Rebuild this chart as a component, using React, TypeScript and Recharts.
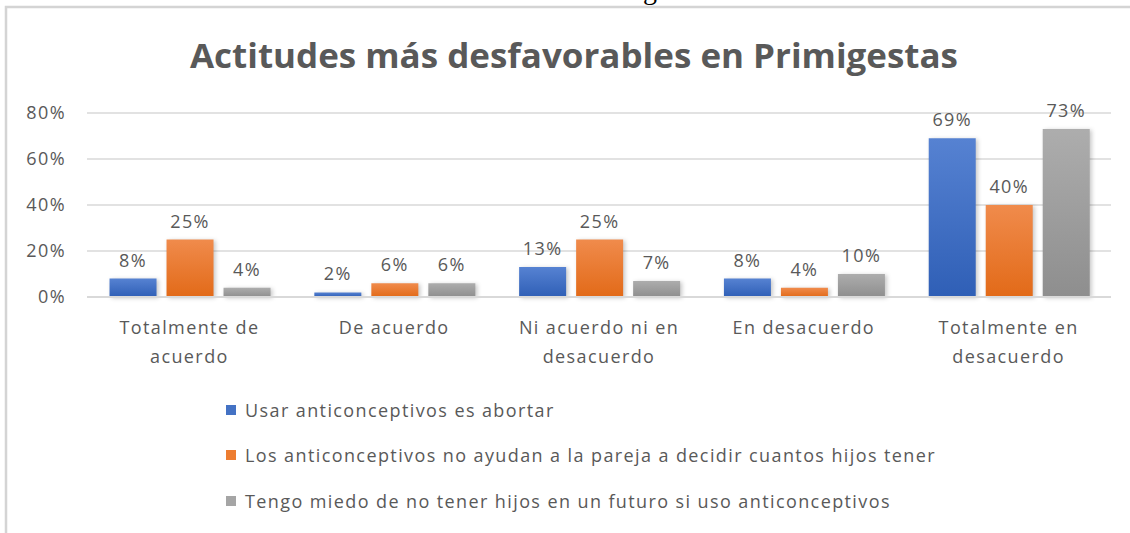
import React from "react";
import { BarChart, Bar, XAxis, YAxis, CartesianGrid, LabelList, Legend } from "recharts";

const categories = [
  "Totalmente de acuerdo",
  "De acuerdo",
  "Ni acuerdo ni en desacuerdo",
  "En desacuerdo",
  "Totalmente en desacuerdo",
];
const tickLines = [
  ["Totalmente de", "acuerdo"],
  ["De acuerdo"],
  ["Ni acuerdo ni en", "desacuerdo"],
  ["En desacuerdo"],
  ["Totalmente en", "desacuerdo"],
];
const seriesNames = [
  "Usar anticonceptivos es abortar",
  "Los anticonceptivos no ayudan a la pareja a decidir cuantos hijos tener",
  "Tengo miedo de no tener hijos en un futuro si uso anticonceptivos",
];
const abortar = [8, 2, 13, 8, 69];
const noAyudan = [25, 6, 25, 4, 40];
const miedo = [4, 6, 7, 10, 73];
const yTicks = [0, 20, 40, 60, 80];

const TITLE = "Actitudes más desfavorables en Primigestas";
const TEXT = "#595959";
const GRID = "#d9d9d9";
const FONT = "'Open Sans', sans-serif";
const SPACING = 1.4;

const series = [
  { key: "s0", name: seriesNames[0], color: "#4472C4", top: "#5682d2", bottom: "#2f5fb6" },
  { key: "s1", name: seriesNames[1], color: "#ED7D31", top: "#f08b4c", bottom: "#e26a18" },
  { key: "s2", name: seriesNames[2], color: "#A5A5A5", top: "#adadad", bottom: "#8e8e8e" },
];

const data = categories.map((c, i) => ({
  category: c,
  s0: abortar[i],
  s1: noAyudan[i],
  s2: miedo[i],
}));

function CategoryTick({ x, y, payload }: any) {
  const lines = tickLines[categories.indexOf(payload.value)] || [payload.value];
  return (
    <text x={x} y={y} textAnchor="middle" fill={TEXT} fontSize={18} fontFamily={FONT} letterSpacing={SPACING}>
      {lines.map((l, i) => (
        <tspan key={i} x={x} dy={29}>
          {l}
        </tspan>
      ))}
    </text>
  );
}

function LegendBox() {
  return (
    <div style={{ fontFamily: FONT, fontSize: 18, color: TEXT, textAlign: "left", letterSpacing: SPACING }}>
      {series.map((s) => (
        <div key={s.key} style={{ display: "flex", alignItems: "center", height: 45.5 }}>
          <span style={{ width: 10, height: 10, background: s.color, marginRight: 9, display: "inline-block" }} />
          <span>{s.name}</span>
        </div>
      ))}
    </div>
  );
}

export default function App() {
  return (
    <div style={{ position: "absolute", left: 0, top: 0, width: 1130, height: 533, background: "#fff" }}>
      <div style={{ position: "absolute", left: 0, top: 0 }}>
        <BarChart
          width={1130}
          height={533}
          data={data}
          margin={{ top: 113, right: 19, left: 0, bottom: 0 }}
          barCategoryGap="11%"
          barGap={10}
        >
          <defs>
            {series.map((s) => (
              <linearGradient key={s.key} id={`grad-${s.key}`} x1="0" y1="0" x2="0" y2="1">
                <stop offset="0%" stopColor={s.top} />
                <stop offset="100%" stopColor={s.bottom} />
              </linearGradient>
            ))}
          </defs>
          <CartesianGrid vertical={false} stroke={GRID} strokeWidth={1.3} />
          <XAxis
            dataKey="category"
            axisLine={{ stroke: GRID, strokeWidth: 2 }}
            tickLine={false}
            interval={0}
            tick={<CategoryTick />}
            height={236}
          />
          <YAxis
            domain={[0, 80]}
            ticks={yTicks}
            width={87}
            axisLine={false}
            tickLine={false}
            tickMargin={15}
            tickFormatter={(v: number) => `${v}%`}
            tick={{ fill: TEXT, fontSize: 18, fontFamily: FONT, letterSpacing: SPACING }}
          />
          <Legend
            layout="vertical"
            verticalAlign="middle"
            align="center"
            content={<LegendBox />}
            wrapperStyle={{ position: "absolute", left: 226, top: 387, width: 800 }}
          />
          {series.map((s) => (
            <Bar
              key={s.key}
              dataKey={s.key}
              name={s.name}
              fill={`url(#grad-${s.key})`}
              isAnimationActive={false}
              style={{ filter: "drop-shadow(2px 1px 2px rgba(0,0,0,0.22))" }}
            >
              <LabelList
                dataKey={s.key}
                position="top"
                offset={12}
                formatter={(v: any) => `${v}%`}
                style={{ fill: TEXT, fontSize: 18, fontFamily: FONT, letterSpacing: SPACING }}
              />
            </Bar>
          ))}
        </BarChart>
      </div>
      <svg width={1130} height={533} style={{ position: "absolute", left: 0, top: 0, pointerEvents: "none" }}>
        <path d="M6 533 L6 7 L1130 7" fill="none" stroke="#d4d4d4" strokeWidth={2.5} />
        <text x={650} y={-1} textAnchor="middle" fontFamily="'Liberation Serif', serif" fontSize={28} fill="#000">
          g
        </text>
        <text
          x={574}
          y={68}
          textAnchor="middle"
          fontFamily={FONT}
          fontWeight={700}
          fontSize={34}
          fill={TEXT}
          textLength={768}
          lengthAdjust="spacingAndGlyphs"
        >
          {TITLE}
        </text>
      </svg>
    </div>
  );
}
